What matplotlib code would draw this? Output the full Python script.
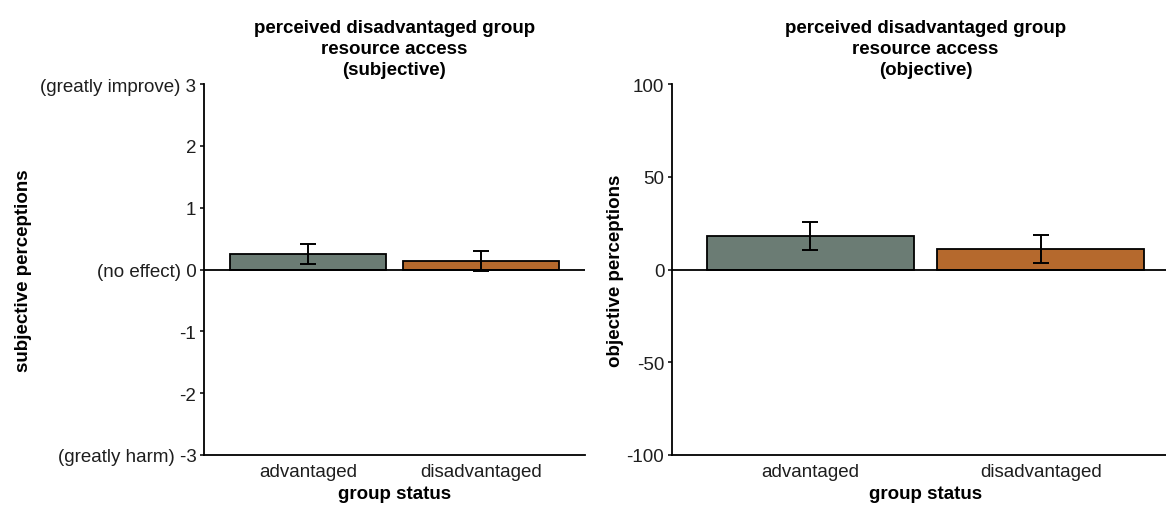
import numpy as np
import matplotlib.pyplot as plt

plt.rcParams['font.family'] = ['Liberation Sans', 'DejaVu Sans']

groups = ['advantaged', 'disadvantaged']
bar_colors = ['#6B7C74', '#B5692D']

subj_mean = [0.25, 0.135]
subj_lo = [0.09, -0.025]
subj_hi = [0.415, 0.30]

obj_mean = [18.0, 10.8]
obj_lo = [10.6, 3.4]
obj_hi = [25.6, 18.7]

subj_ticks = [-3, -2, -1, 0, 1, 2, 3]
subj_ticklabels = ['(greatly harm) -3', '-2', '-1', '(no effect) 0', '1', '2', '(greatly improve) 3']
obj_ticks = [-100, -50, 0, 50, 100]

fs = 13.5
tick_col = '#1e1e1e'

fig = plt.figure(figsize=(11.66, 5.06), dpi=100)
W, H = 1166, 506


def make_ax(x0, x1, y0, y1):
    return fig.add_axes([x0 / W, (H - y1) / H, (x1 - x0) / W, (y1 - y0) / H])


def draw(ax, mean, lo, hi, ylim, ticks, ticklabels, title, ylabel, ylab_x):
    x = np.arange(1, len(groups) + 1)
    ax.bar(x, mean, width=0.9, color=bar_colors, edgecolor='black', linewidth=1.3, zorder=2)
    m = np.array(mean)
    yerr = [m - np.array(lo), np.array(hi) - m]
    ax.errorbar(x, mean, yerr=yerr, fmt='none', ecolor='black', elinewidth=1.4,
                capsize=6, capthick=1.4, zorder=3)
    ax.axhline(0, color='black', linewidth=1.3, zorder=4)
    ax.set_xlim(0.4, 2.6)
    ax.set_ylim(*ylim)
    ax.set_xticks(x)
    ax.set_xticklabels(groups, fontsize=fs, color=tick_col)
    ax.set_yticks(ticks)
    ax.set_yticklabels(ticklabels, fontsize=fs, color=tick_col)
    ax.tick_params(axis='x', length=0, pad=5.5)
    ax.tick_params(axis='y', length=3, width=1.1, pad=2.5)
    for s in ['top', 'right']:
        ax.spines[s].set_visible(False)
    for s in ['left', 'bottom']:
        ax.spines[s].set_linewidth(1.3)
    ax.set_title(title, fontsize=fs, fontweight='bold', linespacing=1.3, pad=7)
    ax.set_xlabel('group status', fontsize=fs, fontweight='bold')
    ax.xaxis.set_label_coords(0.5, -0.105)
    ax.xaxis.label.set_va('center')
    ax.set_ylabel(ylabel, fontsize=fs, fontweight='bold')
    ax.yaxis.set_label_coords(ylab_x, 0.5)
    ax.yaxis.label.set_va('center')


ax1 = make_ax(204, 585, 85, 456)
draw(ax1, subj_mean, subj_lo, subj_hi, (-3, 3), subj_ticks, subj_ticklabels,
     'perceived disadvantaged group\nresource access\n(subjective)',
     'subjective perceptions', (23 - 204) / 381)

ax2 = make_ax(672, 1179, 85, 456)
draw(ax2, obj_mean, obj_lo, obj_hi, (-100, 100), obj_ticks, [str(t) for t in obj_ticks],
     'perceived disadvantaged group\nresource access\n(objective)',
     'objective perceptions', (615 - 672) / 507)

fig.savefig('out.png', dpi=100)
